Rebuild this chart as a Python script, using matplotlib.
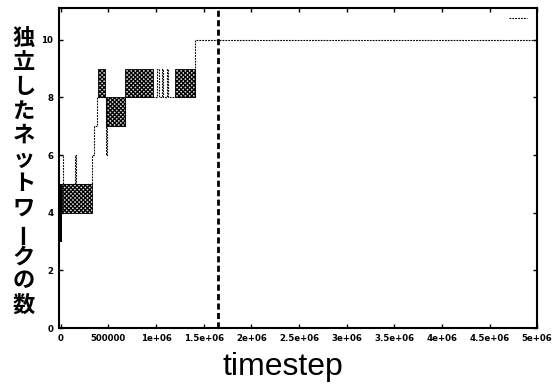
import matplotlib.pyplot as plt
from matplotlib.lines import Line2D

# step trajectory of the number of independent networks (post steps)
step_t = [0, 20e3, 150e3, 160e3, 330e3, 350e3, 380e3, 470e3, 490e3, 670e3,
          965e3, 1015e3, 1030e3, 1060e3, 1070e3, 1110e3, 1125e3, 1195e3, 1405e3, 5.0e6]
step_n = [6, 5, 6, 5, 6, 7, 8, 6, 7, 8,
          8, 9, 8, 9, 8, 9, 8, 8, 10, 10]

# rapidly oscillating stretches (drawn as hatched bands)
band_start = [10e3, 390e3, 480e3, 670e3, 1195e3]
band_end = [325e3, 460e3, 670e3, 965e3, 1405e3]
band_low = [4, 8, 7, 8, 8]
band_high = [5, 9, 8, 9, 9]

# very early dense oscillation
early_t = [-5e3, 18e3]
early_low = 3
early_high = 5

marker_t = 1.655e6

x_ticks = [0, 5e5, 1e6, 1.5e6, 2e6, 2.5e6, 3e6, 3.5e6, 4e6, 4.5e6, 5e6]
x_labels = ["0", "500000", "1e+06", "1.5e+06", "2e+06", "2.5e+06",
            "3e+06", "3.5e+06", "4e+06", "4.5e+06", "5e+06"]
y_ticks = [0, 2, 4, 6, 8, 10]

ylabel_chars = list("独立したネットワークの数")

plt.rcParams["hatch.linewidth"] = 0.9

fig = plt.figure(figsize=(5.55, 3.85), dpi=100)
ax = fig.add_axes([0.106, 0.148, 0.862, 0.831])

for s, e, lo, hi in zip(band_start, band_end, band_low, band_high):
    ax.fill_between([s, e], lo, hi, facecolor="#d8d8d8", edgecolor="black",
                    hatch="xxxxxxxx", linewidth=0.6)
ax.fill_between(early_t, early_low, early_high, color="black", linewidth=0)

line, = ax.step(step_t, step_n, where="post", color="black", linewidth=0.8,
                linestyle=(0, (1.6, 1.0)))
ax.axvline(marker_t, color="black", linewidth=2.0, linestyle=(0, (2.2, 1.2)))

ax.set_xlim(-20e3, 5.0e6)
ax.set_ylim(0, 11.1)
ax.set_xticks(x_ticks)
ax.set_xticklabels(x_labels)
ax.set_yticks(y_ticks)
ax.tick_params(direction="in", length=3, width=1, top=True, right=True,
               labelsize=6.2, pad=4)
for lab in ax.get_xticklabels() + ax.get_yticklabels():
    lab.set_fontweight("bold")
for sp in ax.spines.values():
    sp.set_linewidth(1.5)

key = Line2D([], [], color="black", linewidth=0.8, linestyle=(0, (1.6, 1.0)))
ax.legend([key], [" "], loc="upper right", frameon=False, handlelength=2.2,
          fontsize=6, borderaxespad=0.3, handletextpad=0.2)

ax.set_xlabel("timestep", fontsize=23, family="Liberation Sans")
ax.xaxis.set_label_coords(0.469, -0.075, transform=ax.transAxes)
ax.xaxis.label.set_va("top")

# vertical (tategaki) y label, one glyph per line
top_px, pitch_px = 38, 24.3
for i, ch in enumerate(ylabel_chars):
    y = 1 - (top_px + i * pitch_px) / 385
    rot = 90 if ch == "ー" else 0
    fig.text(24 / 555, y, ch, fontsize=16, fontweight="bold", rotation=rot,
             family=["Noto Sans CJK JP", "DejaVu Sans"], ha="center", va="center")

fig.savefig("out.png", dpi=100, facecolor="white")
